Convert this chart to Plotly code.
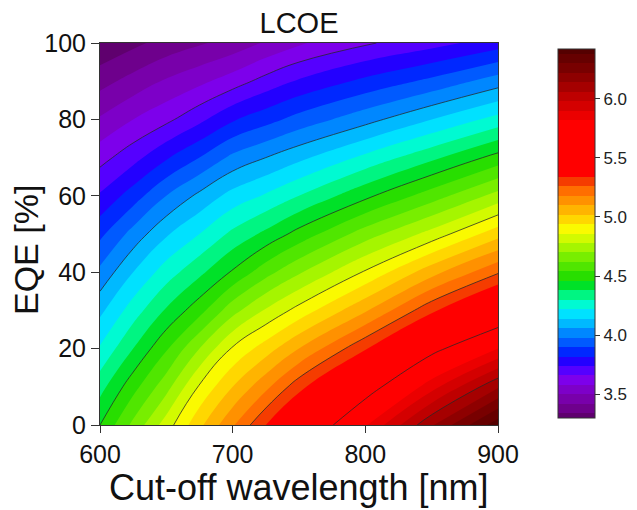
import plotly.graph_objects as go

# Cut-off wavelength grid [nm] and EQE grid [%]
wavelength = [600, 625, 650, 675, 700, 725, 750, 800, 850, 900]
eqe = [0, 10, 20, 30, 40, 50, 60, 70, 80, 90, 100]

# LCOE values (rows = EQE, columns = wavelength)
lcoe_eqe0 = [4.46, 4.64, 4.82, 5.00, 5.17, 5.34, 5.50, 5.81, 6.13, 6.43]
lcoe_eqe10 = [4.35, 4.51, 4.67, 4.87, 5.02, 5.16, 5.31, 5.59, 5.87, 6.13]
lcoe_eqe20 = [4.23, 4.38, 4.53, 4.70, 4.87, 4.98, 5.10, 5.33, 5.62, 5.82]
lcoe_eqe30 = [4.12, 4.26, 4.39, 4.51, 4.67, 4.79, 4.89, 5.09, 5.32, 5.53]
lcoe_eqe40 = [4.00, 4.14, 4.26, 4.36, 4.47, 4.59, 4.69, 4.87, 5.07, 5.25]
lcoe_eqe50 = [3.88, 4.01, 4.13, 4.22, 4.32, 4.40, 4.49, 4.66, 4.81, 4.99]
lcoe_eqe60 = [3.75, 3.86, 3.98, 4.08, 4.17, 4.23, 4.30, 4.44, 4.58, 4.73]
lcoe_eqe70 = [3.63, 3.71, 3.81, 3.90, 4.00, 4.06, 4.12, 4.24, 4.36, 4.49]
lcoe_eqe80 = [3.51, 3.58, 3.64, 3.72, 3.81, 3.87, 3.93, 4.03, 4.14, 4.25]
lcoe_eqe90 = [3.39, 3.45, 3.51, 3.56, 3.62, 3.69, 3.75, 3.84, 3.92, 4.02]
lcoe_eqe100 = [3.27, 3.32, 3.37, 3.41, 3.45, 3.51, 3.57, 3.65, 3.71, 3.78]

lcoe = [lcoe_eqe0, lcoe_eqe10, lcoe_eqe20, lcoe_eqe30, lcoe_eqe40, lcoe_eqe50,
        lcoe_eqe60, lcoe_eqe70, lcoe_eqe80, lcoe_eqe90, lcoe_eqe100]

x_ticks = [600, 700, 800, 900]
y_ticks = [0, 20, 40, 60, 80, 100]
cbar_ticks = [3.5, 4.0, 4.5, 5.0, 5.5, 6.0]

# band colours, from lowest to highest LCOE band
band_colors = [
    "rgb(95,0,110)", "rgb(110,0,140)", "rgb(120,0,170)", "rgb(125,0,200)",
    "rgb(125,0,235)", "rgb(85,0,255)", "rgb(35,0,255)", "rgb(0,40,255)",
    "rgb(0,90,255)", "rgb(0,135,255)", "rgb(0,185,255)", "rgb(0,225,255)",
    "rgb(0,250,210)", "rgb(0,245,130)", "rgb(0,225,40)", "rgb(40,222,0)",
    "rgb(80,230,0)", "rgb(120,238,0)", "rgb(165,245,0)", "rgb(210,250,0)",
    "rgb(250,250,0)", "rgb(255,215,0)", "rgb(255,180,0)", "rgb(255,145,0)",
    "rgb(255,110,0)", "rgb(245,60,0)", "rgb(255,0,0)", "rgb(255,0,0)",
    "rgb(255,0,0)", "rgb(255,0,0)", "rgb(255,0,0)", "rgb(255,0,0)",
    "rgb(235,0,0)", "rgb(212,0,0)", "rgb(190,0,0)", "rgb(165,0,0)",
    "rgb(142,0,0)", "rgb(120,0,0)", "rgb(102,0,0)", "rgb(85,0,0)",
]
n = len(band_colors)
colorscale = [[i / (n - 1), c] for i, c in enumerate(band_colors)]

FONT = "Liberation Sans, Arial, sans-serif"

fig = go.Figure()
fig.add_trace(go.Contour(
    x=wavelength, y=eqe, z=lcoe,
    colorscale=colorscale,
    autocontour=False,
    contours=dict(start=3.34, end=6.38, size=0.08, coloring="fill", showlines=False),
    line=dict(width=0, smoothing=1.3),
    colorbar=dict(
        x=(558 - 100) / 398, xanchor="left", xpad=0,
        y=(425 - 233.5) / 382, yanchor="middle", ypad=0,
        len=369, lenmode="pixels", thickness=37,
        outlinewidth=1, outlinecolor="#333",
        tickvals=cbar_ticks, tickformat=".1f",
        ticks="outside", ticklen=5, tickcolor="#333",
        tickfont=dict(family=FONT, size=17, color="#222"),
    ),
    hoverinfo="skip",
))
fig.add_trace(go.Contour(
    x=wavelength, y=eqe, z=lcoe,
    autocontour=False,
    contours=dict(start=3.66, end=6.06, size=0.4, coloring="none"),
    line=dict(width=0.9, color="rgba(40,40,40,0.85)", smoothing=1.3),
    showscale=False,
    hoverinfo="skip",
))

fig.update_layout(
    width=637, height=510,
    margin=dict(l=100, r=139, t=43, b=85, autoexpand=False),
    paper_bgcolor="white", plot_bgcolor="white",
    font=dict(family=FONT, color="#111"),
    title=dict(text="LCOE", x=0.5, xref="paper", xanchor="center",
               y=1 - 23 / 510, yref="container", yanchor="middle",
               font=dict(size=29, family=FONT, color="#111")),
    xaxis=dict(range=[600, 900], tickvals=x_ticks, ticks="outside", ticklen=7,
               tickcolor="#333", showline=True, mirror=True, linecolor="#333",
               linewidth=1, showgrid=False, zeroline=False,
               tickfont=dict(size=25, family=FONT, color="#111")),
    yaxis=dict(range=[0, 100], tickvals=y_ticks, ticks="outside", ticklen=8,
               tickcolor="#333", showline=True, mirror=True, linecolor="#333",
               linewidth=1, showgrid=False, zeroline=False,
               tickfont=dict(size=25, family=FONT, color="#111")),
    annotations=[
        dict(text="Cut-off wavelength [nm]", xref="paper", yref="paper",
             x=0.5, y=(425 - 487) / 382, xanchor="center", yanchor="middle",
             showarrow=False, font=dict(size=36, family=FONT, color="#111")),
        dict(text="EQE [%]", xref="paper", yref="paper",
             x=(26 - 100) / 398, y=(425 - 250) / 382, xanchor="center",
             yanchor="middle", textangle=-90, showarrow=False,
             font=dict(size=34, family=FONT, color="#111")),
    ],
)

fig.write_html(
    "out.html",
    config={"displayModeBar": False},
    post_script="document.body.style.margin='0px';document.body.style.overflow='hidden';",
)
